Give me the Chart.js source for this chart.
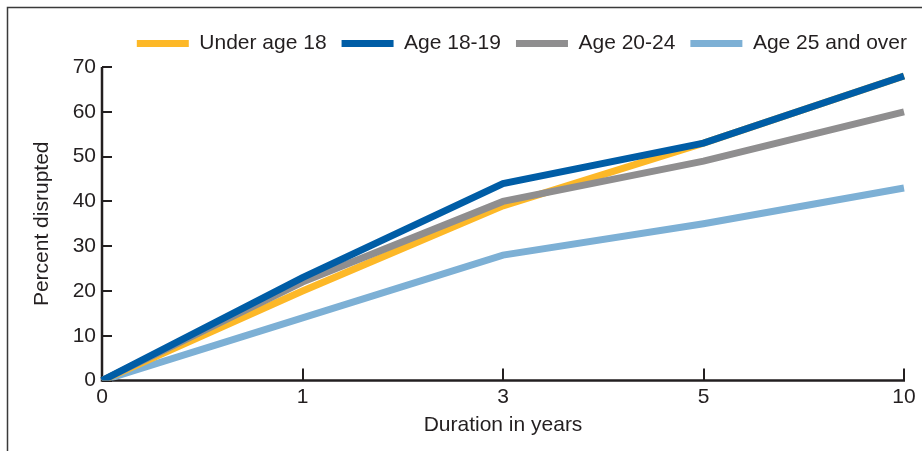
<!DOCTYPE html>
<html>
<head>
<meta charset="utf-8">
<script src="https://cdn.jsdelivr.net/npm/chart.js@4/dist/chart.umd.min.js"></script>
<style>
  html, body { margin: 0; padding: 0; background: #fff; }
  #wrap { width: 922px; height: 451px; position: relative; }
</style>
</head>
<body>
<div id="wrap"><canvas id="chart" width="922" height="451"></canvas></div>
<script>
// duration categories (years)
const durations = ['0', '1', '3', '5', '10'];
const yTicks = [0, 10, 20, 30, 40, 50, 60, 70];

// percent disrupted by age at start
const under18 = [0, 20, 39, 53, 68];
const age1819 = [0, 23, 44, 53, 68];
const age2024 = [0, 22, 40, 49, 60];
const age25up = [0, 14, 28, 35, 43];

const seriesNames = ['Under age 18', 'Age 18-19', 'Age 20-24', 'Age 25 and over'];
const seriesColors = ['#FDB827', '#005DA6', '#8F8E8F', '#7DB0D5'];
const seriesOrder = [2, 0, 1, 3]; // blue on top, then gray, then yellow

const FONT = { family: "'Liberation Sans', Arial, sans-serif", size: 21 };
const INK = '#231F20';

// outer frame + axes with inward ticks
const framePlugin = {
    id: 'frameAxes',
    beforeInit(chart) {
        // a bit more room under the legend
        const lg = chart.legend;
        if (lg) {
            const fit = lg.fit;
            lg.fit = function () { fit.call(this); this.height += 3; };
        }
    },
    beforeDraw(chart) {
        const c = chart.ctx;
        c.save();
        c.strokeStyle = '#3a3a3a';
        c.lineWidth = 1.5;
        c.beginPath();
        c.moveTo(7.5, chart.height + 2);
        c.lineTo(7.5, 7.5);
        c.lineTo(chart.width + 2, 7.5);
        c.stroke();
        c.restore();
    },
    beforeDatasetsDraw(chart) {
        const c = chart.ctx;
        const xs = chart.scales.x, ys = chart.scales.y;
        const left = xs.getPixelForValue(0);
        const right = xs.getPixelForValue(durations.length - 1);
        const bottom = ys.getPixelForValue(0);
        const top = ys.getPixelForValue(70);
        c.save();
        c.strokeStyle = INK;
        c.lineWidth = 2.5;
        c.beginPath();
        c.moveTo(left, top);
        c.lineTo(left, bottom);
        c.lineTo(right + 1, bottom);
        c.stroke();
        c.lineWidth = 2;
        c.beginPath();
        yTicks.forEach(v => {
            const y = Math.round(ys.getPixelForValue(v));
            c.moveTo(left, y); c.lineTo(left + 10, y);
        });
        durations.forEach((d, i) => {
            if (i === 0) return;
            const x = Math.round(xs.getPixelForValue(i));
            c.moveTo(x, bottom); c.lineTo(x, bottom - 12);
        });
        c.stroke();
        c.restore();
    }
};

const allData = [under18, age1819, age2024, age25up];
const datasets = allData.map((d, i) => ({
    label: seriesNames[i],
    data: d,
    borderColor: seriesColors[i],
    backgroundColor: seriesColors[i],
    borderWidth: 7,
    pointRadius: 0,
    tension: 0,
    order: seriesOrder[i],
    borderJoinStyle: 'miter'
}));

new Chart(document.getElementById('chart'), {
    type: 'line',
    data: { labels: durations, datasets: datasets },
    plugins: [framePlugin],
    options: {
        responsive: false,
        animation: false,
        layout: { padding: { top: 18, right: 0, bottom: 10, left: 0 } },
        plugins: {
            tooltip: { enabled: false },
            legend: {
                position: 'top',
                align: 'end',
                labels: {
                    font: FONT,
                    color: INK,
                    boxWidth: 52,
                    boxHeight: 7,
                    padding: 15,
                    generateLabels(chart) {
                        return seriesNames.map((n, i) => ({
                            text: n,
                            fillStyle: seriesColors[i],
                            strokeStyle: seriesColors[i],
                            lineWidth: 0,
                            fontColor: INK,
                            datasetIndex: i,
                            hidden: false
                        }));
                    }
                }
            }
        },
        scales: {
            x: {
                type: 'category',
                offset: false,
                grid: { display: false, drawTicks: false },
                border: { display: false },
                afterFit(scale) { scale.paddingRight = 18; },
                ticks: { font: FONT, color: INK, padding: 4, maxRotation: 0 },
                title: { display: true, text: 'Duration in years', font: FONT, color: INK, padding: { top: -1, bottom: 3 } }
            },
            y: {
                min: 0, max: 70,
                grid: { display: false, drawTicks: false },
                border: { display: false },
                afterBuildTicks(scale) { scale.ticks = yTicks.map(v => ({ value: v })); },
                afterFit(scale) { scale.width = 102; },
                ticks: { font: FONT, color: INK, padding: 6 },
                title: { display: true, text: 'Percent disrupted', font: FONT, color: INK, padding: { top: 30, bottom: 4 } }
            }
        }
    }
});
</script>
</body>
</html>
